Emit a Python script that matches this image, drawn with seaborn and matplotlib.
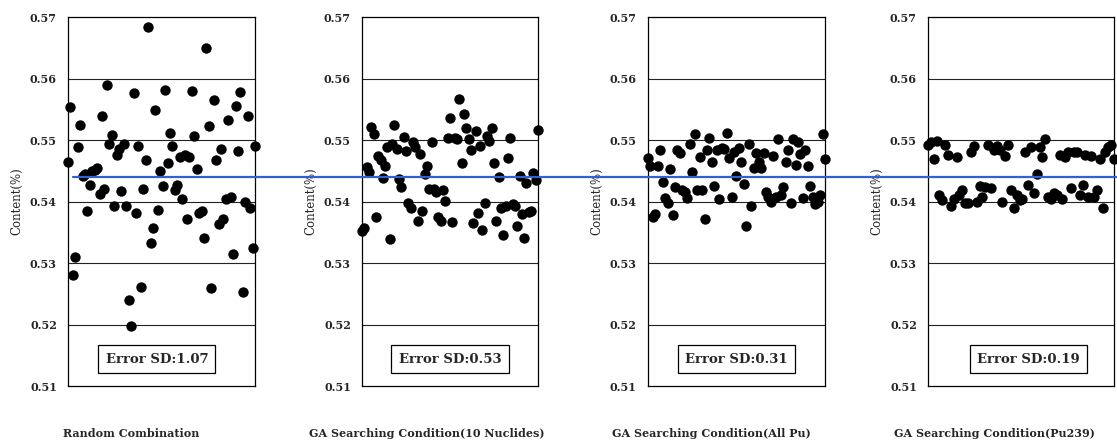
import matplotlib
matplotlib.use("Agg")
import matplotlib.pyplot as plt
import matplotlib.transforms as mtransforms
from matplotlib.lines import Line2D
import pandas as pd
import seaborn as sns

# Content(%) per sample (left to right)
random_comb = [
    0.5464, 0.5554, 0.5280, 0.5309, 0.5488, 0.5525, 0.5441, 0.5445, 0.5385, 0.5427,
    0.5450, 0.5452, 0.5454, 0.5413, 0.5539, 0.5421, 0.5589, 0.5494, 0.5508, 0.5393,
    0.5475, 0.5486, 0.5417, 0.5493, 0.5392, 0.5240, 0.5197, 0.5577, 0.5382, 0.5490,
    0.5261, 0.5421, 0.5468, 0.5684, 0.5333, 0.5357, 0.5548, 0.5386, 0.5450, 0.5425,
    0.5581, 0.5463, 0.5511, 0.5490, 0.5418, 0.5427, 0.5473, 0.5404, 0.5475, 0.5371,
    0.5473, 0.5580, 0.5506, 0.5453, 0.5382, 0.5385, 0.5341, 0.5650, 0.5522, 0.5260,
    0.5565, 0.5468, 0.5364, 0.5485, 0.5372, 0.5404, 0.5532, 0.5408, 0.5315, 0.5555,
    0.5482, 0.5578, 0.5253, 0.5400, 0.5539, 0.5389, 0.5325, 0.5490,
]
ga_10_nuclides = [
    0.5352, 0.5357, 0.5456, 0.5448, 0.5521, 0.5509, 0.5375, 0.5474, 0.5467, 0.5438,
    0.5458, 0.5489, 0.5339, 0.5494, 0.5524, 0.5486, 0.5437, 0.5423, 0.5505, 0.5482,
    0.5398, 0.5389, 0.5497, 0.5489, 0.5369, 0.5477, 0.5385, 0.5445, 0.5458, 0.5421,
    0.5497, 0.5420, 0.5416, 0.5375, 0.5369, 0.5418, 0.5401, 0.5504, 0.5535, 0.5367,
    0.5504, 0.5501, 0.5567, 0.5463, 0.5543, 0.5519, 0.5501, 0.5483, 0.5365, 0.5514,
    0.5382, 0.5490, 0.5353, 0.5397, 0.5506, 0.5499, 0.5520, 0.5462, 0.5369, 0.5440,
    0.5389, 0.5346, 0.5392, 0.5471, 0.5503, 0.5396, 0.5393, 0.5360, 0.5441, 0.5379,
    0.5340, 0.5430, 0.5383, 0.5385, 0.5447, 0.5435, 0.5517,
]
ga_all_pu = [
    0.5470, 0.5458, 0.5374, 0.5379, 0.5458, 0.5483, 0.5432, 0.5405, 0.5397, 0.5453,
    0.5378, 0.5423, 0.5483, 0.5479, 0.5419, 0.5416, 0.5405, 0.5494, 0.5448, 0.5509,
    0.5419, 0.5473, 0.5418, 0.5372, 0.5484, 0.5503, 0.5465, 0.5426, 0.5484, 0.5404,
    0.5487, 0.5485, 0.5512, 0.5470, 0.5407, 0.5480, 0.5442, 0.5487, 0.5464, 0.5429,
    0.5360, 0.5494, 0.5393, 0.5455, 0.5479, 0.5464, 0.5455, 0.5479, 0.5416, 0.5408,
    0.5400, 0.5474, 0.5408, 0.5501, 0.5410, 0.5424, 0.5464, 0.5484, 0.5398, 0.5501,
    0.5460, 0.5496, 0.5477, 0.5405, 0.5484, 0.5458, 0.5426, 0.5407, 0.5396, 0.5400,
    0.5410, 0.5510, 0.5469,
]
ga_pu239 = [
    0.5492, 0.5496, 0.5469, 0.5498, 0.5410, 0.5402, 0.5492, 0.5476, 0.5393, 0.5404,
    0.5472, 0.5410, 0.5418, 0.5398, 0.5397, 0.5481, 0.5490, 0.5400, 0.5425, 0.5408,
    0.5424, 0.5492, 0.5422, 0.5484, 0.5490, 0.5484, 0.5400, 0.5474, 0.5492, 0.5418,
    0.5390, 0.5411, 0.5402, 0.5404, 0.5480, 0.5427, 0.5489, 0.5414, 0.5444, 0.5489,
    0.5473, 0.5501, 0.5407, 0.5404, 0.5414, 0.5410, 0.5476, 0.5404, 0.5473, 0.5480,
    0.5422, 0.5481, 0.5481, 0.5410, 0.5427, 0.5476, 0.5408, 0.5474, 0.5407, 0.5418,
    0.5469, 0.5390, 0.5481, 0.5489, 0.5492, 0.5469,
]

series = [random_comb, ga_10_nuclides, ga_all_pu, ga_pu239]
panel_names = [
    "Random Combination",
    "GA Searching Condition(10 Nuclides)",
    "GA Searching Condition(All Pu)",
    "GA Searching Condition(Pu239)",
]
error_sd = ["1.07", "0.53", "0.31", "0.19"]
reference_content = 0.544
y_ticks = [0.51, 0.52, 0.53, 0.54, 0.55, 0.56, 0.57]

sns.set_style("white")
plt.rcParams["font.family"] = ["DejaVu Serif"]

fig = plt.figure(figsize=(11.17, 4.44), dpi=100)

# axes boxes in figure fraction
lefts = [0.0609, 0.3241, 0.5801, 0.8308]
widths = [0.1674, 0.1576, 0.1585, 0.1665]
box_x = [0.475, 0.50, 0.50, 0.54]
label_x = [0.34, 0.37, 0.36, 0.355]

axes = []
for i, vals in enumerate(series):
    ax = fig.add_axes([lefts[i], 0.1306, widths[i], 0.8311])
    df = pd.DataFrame({"sample": range(len(vals)), "content": vals})
    sns.scatterplot(data=df, x="sample", y="content", ax=ax, color="black",
                    s=56, linewidth=0, edgecolor=None, clip_on=False, zorder=3)
    ax.set_xlim(0, len(vals) - 1)
    ax.set_ylim(0.51, 0.57)
    ax.set_yticks(y_ticks)
    ax.set_yticklabels([f"{t:.2f}" for t in y_ticks], fontsize=8, fontweight="bold")
    ax.set_xticks([])
    ax.tick_params(axis="y", length=0, pad=8)
    for t in y_ticks[1:-1]:
        ax.axhline(t, color="#222222", linewidth=0.8, zorder=1)
    for sp in ax.spines.values():
        sp.set_color("black")
        sp.set_linewidth(0.9)
    ax.set_ylabel("Content(%)", fontsize=8.5, labelpad=5)
    ax.set_xlabel(panel_names[i], fontsize=8, fontweight="bold")
    ax.xaxis.set_label_coords(label_x[i], -0.115)
    ax.text(box_x[i], 0.073, f"Error SD:{error_sd[i]}", transform=ax.transAxes,
            ha="center", va="center", fontsize=9.5, fontweight="bold",
            bbox=dict(boxstyle="square,pad=0.55", facecolor="white",
                      edgecolor="black", linewidth=0.9), zorder=4)
    axes.append(ax)

# reference line across all panels
trans = mtransforms.blended_transform_factory(fig.transFigure, axes[0].transData)
fig.add_artist(Line2D([0.065, 1.0], [reference_content, reference_content],
                      transform=trans, color="#3060d8", linewidth=1.6))

fig.savefig("out.png", dpi=100)
